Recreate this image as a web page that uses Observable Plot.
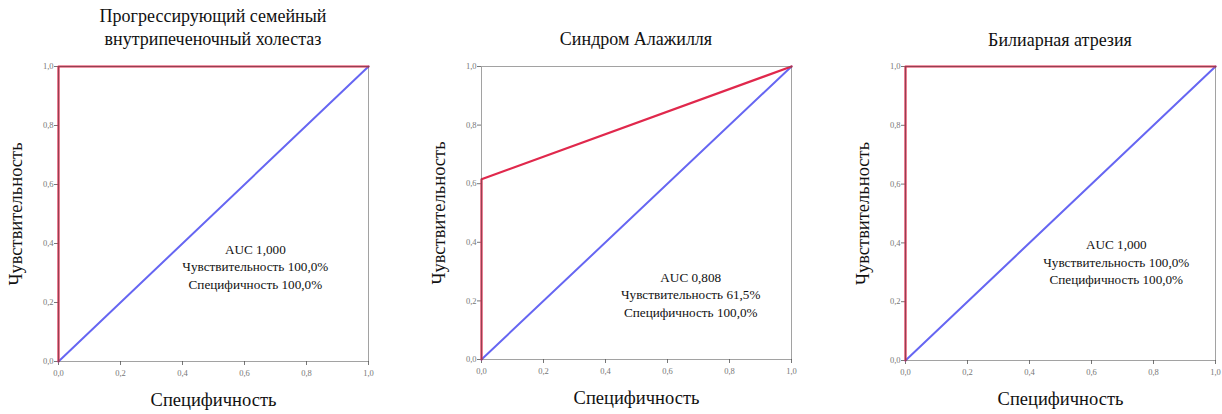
<!DOCTYPE html>
<html>
<head>
<meta charset="utf-8">
<script src="https://cdn.jsdelivr.net/npm/d3@7"></script>
<script src="https://cdn.jsdelivr.net/npm/@observablehq/plot@0.6"></script>
<style>
  html, body { margin: 0; padding: 0; background: #fff; }
  #root { position: relative; width: 1222px; height: 414px; overflow: hidden; font-family: "Liberation Serif", "DejaVu Serif", serif; }
  .panel { position: absolute; top: 0; width: 400px; height: 414px; }
  .title { position: absolute; left: 57px; width: 310px; text-align: center; font-size: 18px; line-height: 23px; color: #111; white-space: nowrap; font-family: "Liberation Serif", serif; }
  .panel svg { position: absolute; left: 0; top: 55px; }
</style>
</head>
<body>
<div id="root"></div>
<script>
// ---- data ----
const panelTitles = ["Прогрессирующий семейный\nвнутрипеченочный холестаз", "Синдром Алажилля", "Билиарная атрезия"];
const rocX1 = [0, 0, 1];
const rocY1 = [0, 1, 1];
const rocX2 = [0, 0, 1];
const rocY2 = [0, 0.615, 1];
const rocX3 = [0, 0, 1];
const rocY3 = [0, 1, 1];
const refX = [0, 1];
const refY = [0, 1];
const aucValues = ["1,000", "0,808", "1,000"];
const sensitivityValues = ["100,0%", "61,5%", "100,0%"];
const specificityValues = ["100,0%", "100,0%", "100,0%"];
const tickValues = [0, 0.2, 0.4, 0.6, 0.8, 1.0];
const tickLabels = ["0,0", "0,2", "0,4", "0,6", "0,8", "1,0"];
const xLabel = "Специфичность";
const yLabel = "Чувствительность";

// ---- layout / style config ----
const panels = [
  {left: 1, titleTop: 5, marginBottom: 53, rocX: rocX1, rocY: rocY1, annX: 0.635, annY: 0.325},
  {left: 424, titleTop: 28, marginBottom: 55, rocX: rocX2, rocY: rocY2, annX: 0.675, annY: 0.225},
  {left: 848, titleTop: 29, marginBottom: 54, rocX: rocX3, rocY: rocY3, annX: 0.68, annY: 0.338}
];
const tickFmt = d => tickLabels[tickValues.findIndex(v => Math.abs(v - d) < 1e-9)];

const root = document.getElementById("root");
panels.forEach((p, i) => {
  const div = document.createElement("div");
  div.className = "panel";
  div.style.left = p.left + "px";
  const t = document.createElement("div");
  t.className = "title";
  t.style.top = p.titleTop + "px";
  t.innerHTML = panelTitles[i].replace("\n", "<br>");
  div.appendChild(t);

  const roc = p.rocX.map((x, k) => ({x, y: p.rocY[k]}));
  const ref = refX.map((x, k) => ({x, y: refY[k]}));
  const ann = `AUC ${aucValues[i]}\n${yLabel} ${sensitivityValues[i]}\n${xLabel} ${specificityValues[i]}`;

  const chart = Plot.plot({
    width: 400,
    height: 359,
    marginLeft: 57,
    marginRight: 33,
    marginTop: 11,
    marginBottom: p.marginBottom,
    style: {fontFamily: "Liberation Serif, serif", background: "transparent", overflow: "visible"},
    x: {domain: [0, 1]},
    y: {domain: [0, 1]},
    marks: [
      Plot.axisX({ticks: tickValues, tickFormat: tickFmt, tickSize: 4, tickPadding: 4, fontSize: 8.5, color: "#777", label: null}),
      Plot.axisY({ticks: tickValues, tickFormat: tickFmt, tickSize: 4, tickPadding: 1, fontSize: 8.5, color: "#777", label: null}),
      Plot.line(ref, {x: "x", y: "y", stroke: "#6666f2", strokeWidth: 2}),
      Plot.line(roc, {x: "x", y: "y", stroke: "#e0284c", strokeWidth: 2.2}),
      Plot.frame({stroke: "#555", strokeWidth: 1, strokeOpacity: 0.55}),
      Plot.text([ann], {x: p.annX, y: p.annY, text: d => d, fontSize: 13.2, lineHeight: 1.32, fill: "#111", textAnchor: "middle"}),
      Plot.text([xLabel], {x: 0.5, y: 0, dy: 39, text: d => d, fontSize: 18.5, fill: "#111"}),
      Plot.text([yLabel], {x: 0, y: 0.5, dx: -42, rotate: -90, text: d => d, fontSize: 18.5, fill: "#111"})
    ]
  });
  div.appendChild(chart);
  root.appendChild(div);
});
</script>
</body>
</html>
